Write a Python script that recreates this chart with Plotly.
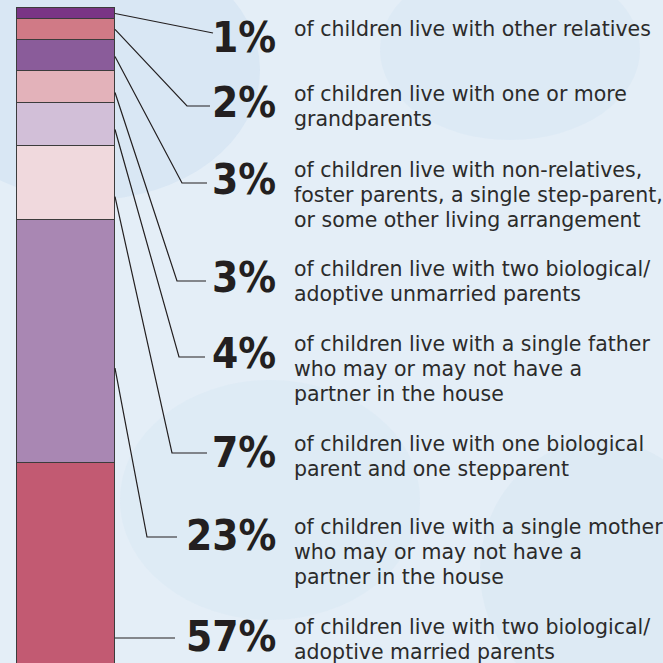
import plotly.graph_objects as go

# ---- data (top of bar to bottom) ----
percent_values = [1, 2, 3, 3, 4, 7, 23, 57]
percent_labels = ["1%", "2%", "3%", "3%", "4%", "7%", "23%", "57%"]
descriptions = [
    "of children live with other relatives",
    "of children live with one or more<br>grandparents",
    "of children live with non-relatives,<br>foster parents, a single step-parent,<br>or some other living arrangement",
    "of children live with two biological/<br>adoptive unmarried parents",
    "of children live with a single father<br>who may or may not have a<br>partner in the house",
    "of children live with one biological<br>parent and one stepparent",
    "of children live with a single mother<br>who may or may not have a<br>partner in the house",
    "of children live with two biological/<br>adoptive married parents",
]
segment_colors = ["#7a3585", "#d07a86", "#8a5c9a", "#e3b2ba",
                  "#d2bfd8", "#f0d9dd", "#a987b3", "#c25a72"]

# ---- layout / style ----
W = H = 663
Y_TOP, Y_BOT = 100.756, 38.10          # visible value range of the bar axis
PX = H / (Y_TOP - Y_BOT)
BAR_X, BAR_W = 66, 98                  # x axis is in pixel units (0..663)
label_center_px = [37.5, 102.5, 179, 277.5, 353, 452.5, 535.5, 636]
leader_frac = [0.52, 0.51, 0.53, 0.66, 0.62, 0.69, 0.61, 0.29]
leader_corner_x = [None, 187, 182, 177, 179, 172, 147, None]
leader_end_x = [213, 210, 207, 206, 205, 207, 177, 175]
leader_y_px = [33, 106, 183, 281, 357, 453, 537, 638]
NUM_RIGHT_X = 278
DESC_X = 292
DESC_SIZE = 20.5
LINE_GAP = 25.0


def px_to_val(py):
    return Y_TOP - py / PX


fig = go.Figure()

# stacked bar: bottom segment first
for val, lab, col in reversed(list(zip(percent_values, percent_labels, segment_colors))):
    fig.add_trace(go.Bar(
        x=[BAR_X], y=[val], width=BAR_W, name=lab,
        marker=dict(color=col, line=dict(color="#3c3c3c", width=1.2)),
        showlegend=False, hoverinfo="skip"))

# leader lines
cum_top = 100.0
for i, val in enumerate(percent_values):
    start_v = cum_top - leader_frac[i] * val
    end_v = px_to_val(leader_y_px[i])
    if i == len(percent_values) - 1:
        start_v = end_v
    xs = [BAR_X + BAR_W / 2]
    ys = [start_v]
    if leader_corner_x[i] is not None:
        xs.append(leader_corner_x[i]); ys.append(end_v)
    xs.append(leader_end_x[i]); ys.append(end_v)
    fig.add_trace(go.Scatter(x=xs, y=ys, mode="lines",
                             line=dict(color="#231f20", width=1.2),
                             showlegend=False, hoverinfo="skip"))
    cum_top -= val

annotations = []
for i, (lab, desc) in enumerate(zip(percent_labels, descriptions)):
    cy = label_center_px[i]
    annotations.append(dict(
        x=NUM_RIGHT_X, y=px_to_val(cy), xref="x", yref="y",
        text=lab, showarrow=False, xanchor="right", yanchor="middle",
        font=dict(family="DejaVu Sans Condensed, DejaVu Sans", size=42,
                  color="#231f20", weight="bold")))
    base = cy - 1.5
    for j, line in enumerate(desc.split("<br>")):
        bl = base + j * LINE_GAP
        annotations.append(dict(
            x=DESC_X, y=px_to_val(bl - 0.346 * DESC_SIZE), xref="x", yref="y",
            text=line, showarrow=False, xanchor="left", yanchor="middle",
            font=dict(family="DejaVu Sans", size=DESC_SIZE, color="#2b2b2b")))

# soft background blobs
blobs = [
    (-80, -60, 260, 200, "#c9dcef", 0.40),
    (380, -40, 640, 140, "#cde0f1", 0.30),
    (120, 380, 420, 620, "#d2e3f2", 0.30),
    (480, 440, 720, 700, "#cde0f0", 0.30),
]
shapes = []
for x0, y0, x1, y1, c, op in blobs:
    shapes.append(dict(type="circle", xref="x", yref="y", layer="below",
                       x0=x0, x1=x1, y0=px_to_val(y0), y1=px_to_val(y1),
                       fillcolor=c, opacity=op, line=dict(width=0)))

fig.update_layout(
    width=W, height=H, margin=dict(l=0, r=0, t=0, b=0),
    paper_bgcolor="#e4eef7", plot_bgcolor="rgba(0,0,0,0)",
    barmode="stack", bargap=0,
    xaxis=dict(range=[0, W], visible=False, fixedrange=True),
    yaxis=dict(range=[Y_BOT, Y_TOP], visible=False, fixedrange=True),
    annotations=annotations, shapes=shapes,
)

fig.write_html("out.html", config={"displayModeBar": False},
               post_script="document.body.style.margin='0';document.body.style.overflow='hidden';")
